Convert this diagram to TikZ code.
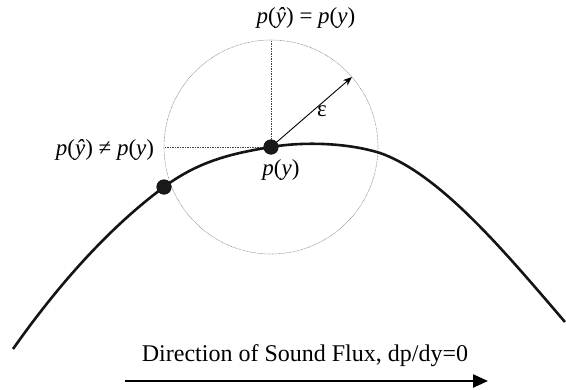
\documentclass[tikz,border=0pt]{standalone}
\usepackage{fontspec}
\setmainfont{Liberation Serif}
\usetikzlibrary{arrows.meta}

\tikzset{
  dot/.style={circle, fill=black!90, minimum size=15pt, inner sep=0pt},
  guide/.style={black!75, line width=0.9pt, dash pattern=on 1.2pt off 1.3pt},
  ball/.style={black!45, line width=0.6pt, dash pattern=on 0.7pt off 0.7pt},
  curve/.style={black!92, line width=2.6pt},
  lbl/.style={font=\fontsize{23}{27}\selectfont, inner sep=0pt},
}

\begin{document}
\begin{tikzpicture}[x=1pt, y=-1pt]
\useasboundingbox (0,0) rectangle (566,389);
% the epsilon ball round p(y)
\draw[ball] (271,147) circle[radius=107pt];
\node[dot] (py) at (271,147) {};
\node[dot] (pn) at (164,187) {};
\coordinate (top) at (271,40);
\coordinate (left) at (165,147);
\coordinate (rim) at (352,77);
\draw[guide] (py.center) -- (top);
\draw[guide] (py.center) -- (left);
\draw[line width=0.9pt, -{Stealth[length=9pt,width=7pt]}] (py.center) -- (rim);
% the curve
\draw[curve] (13,349) .. controls (63,278) and (114,224) .. (pn.center)
  .. controls (200,160) and (235,153) .. (py.center)
  .. controls (300,142) and (345,142) .. (380,153)
  .. controls (440,174) and (505,252) .. (565,322);
\node[dot] at (pn) {};
\node[dot] at (py) {};
% labels
\node[lbl] (eq) at (306,18) {\textit{p}(\textit{ŷ}) = \textit{p}(\textit{y})};
\node[lbl] (neq) at (105,150) {\textit{p}(\textit{ŷ}) ≠ \textit{p}(\textit{y})};
\node[lbl] (plab) at (281,170) {\textit{p}(\textit{y})};
\node[lbl] (eps) at (322,111) {ε};
\node[font=\fontsize{24}{28}\selectfont, inner sep=0pt] (flux) at (305,356) {Direction of Sound Flux, dp/dy=0};
\coordinate (fluxa) at (125,381);
\coordinate (fluxb) at (488,381);
\draw[line width=2.4pt, -{Triangle[length=15pt,width=13pt]}] (fluxa) -- (fluxb);
\end{tikzpicture}
\end{document}
